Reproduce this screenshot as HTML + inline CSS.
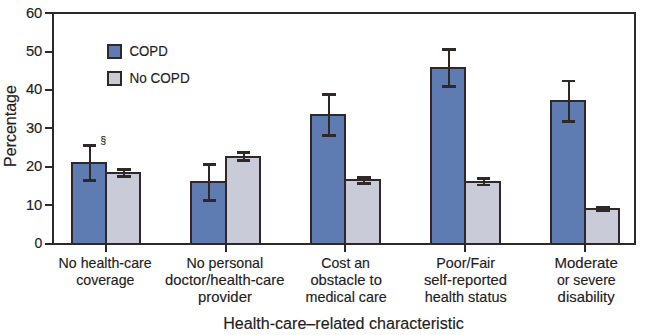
<!DOCTYPE html>
<html><head><meta charset="utf-8"><style>
html,body{margin:0;padding:0;background:#fff;width:660px;height:335px;overflow:hidden}
svg{display:block}
text{font-family:"Liberation Sans",sans-serif;fill:#231c1c;stroke:#231c1c;stroke-width:0.15px}
</style></head><body>
<svg width="660" height="335" viewBox="0 0 660 335">
<rect x="72" y="163" width="34" height="81" fill="#5e7cb2" stroke="#302826" stroke-width="2"/>
<rect x="106" y="173" width="34" height="71" fill="#c9cbd8" stroke="#302826" stroke-width="2"/>
<rect x="191" y="182" width="35" height="62" fill="#5e7cb2" stroke="#302826" stroke-width="2"/>
<rect x="226" y="157" width="34" height="87" fill="#c9cbd8" stroke="#302826" stroke-width="2"/>
<rect x="311" y="115" width="34" height="129" fill="#5e7cb2" stroke="#302826" stroke-width="2"/>
<rect x="345" y="180" width="35" height="64" fill="#c9cbd8" stroke="#302826" stroke-width="2"/>
<rect x="431" y="68" width="34" height="176" fill="#5e7cb2" stroke="#302826" stroke-width="2"/>
<rect x="465" y="182" width="35" height="62" fill="#c9cbd8" stroke="#302826" stroke-width="2"/>
<rect x="551" y="101" width="34" height="143" fill="#5e7cb2" stroke="#302826" stroke-width="2"/>
<rect x="585" y="209" width="34" height="35" fill="#c9cbd8" stroke="#302826" stroke-width="2"/>
<path d="M89 144h2V182h-2zM83 144H96V147H83zM83 179H96V182H83z" fill="#302826"/>
<path d="M123 168h2V178h-2zM117 168H131V171H117zM117 175H131V178H117z" fill="#302826"/>
<path d="M208 163h2V202h-2zM203 163H216V166H203zM203 199H216V202H203z" fill="#302826"/>
<path d="M243 151h2V162h-2zM237 151H250V154H237zM237 159H250V162H237z" fill="#302826"/>
<path d="M328 93h2V137h-2zM322 93H336V96H322zM322 134H336V137H322z" fill="#302826"/>
<path d="M363 176h2V185h-2zM357 176H371V179H357zM357 182H371V185H357z" fill="#302826"/>
<path d="M448 48h2V88h-2zM442 48H456V51H442zM442 85H456V88H442z" fill="#302826"/>
<path d="M483 177h2V186h-2zM477 177H490V180H477zM477 184H490V186H477z" fill="#302826"/>
<path d="M568 80h2V123h-2zM562 80H575V82H562zM562 120H575V123H562z" fill="#302826"/>
<path d="M602 206h2V212h-2zM596 206H610V209H596zM596 209H610V212H596z" fill="#302826"/>
<rect x="53" y="13" width="582" height="231" fill="none" stroke="#302826" stroke-width="2"/>
<path d="M45 244H53" stroke="#302826" stroke-width="2"/>
<text x="42.3" y="248" text-anchor="end" font-size="14">0</text>
<path d="M45 205H53" stroke="#302826" stroke-width="2"/>
<text x="42.3" y="210" text-anchor="end" font-size="14" textLength="16.4" lengthAdjust="spacingAndGlyphs">10</text>
<path d="M45 167H53" stroke="#302826" stroke-width="2"/>
<text x="42.3" y="171" text-anchor="end" font-size="14" textLength="16.4" lengthAdjust="spacingAndGlyphs">20</text>
<path d="M45 128H53" stroke="#302826" stroke-width="2"/>
<text x="42.3" y="133" text-anchor="end" font-size="14" textLength="16.4" lengthAdjust="spacingAndGlyphs">30</text>
<path d="M45 90H53" stroke="#302826" stroke-width="2"/>
<text x="42.3" y="94" text-anchor="end" font-size="14" textLength="16.4" lengthAdjust="spacingAndGlyphs">40</text>
<path d="M45 52H53" stroke="#302826" stroke-width="2"/>
<text x="42.3" y="56" text-anchor="end" font-size="14" textLength="16.4" lengthAdjust="spacingAndGlyphs">50</text>
<path d="M45 13H53" stroke="#302826" stroke-width="2"/>
<text x="42.3" y="18" text-anchor="end" font-size="14" textLength="16.4" lengthAdjust="spacingAndGlyphs">60</text>
<path d="M106 244V252" stroke="#302826" stroke-width="2"/>
<path d="M226 244V252" stroke="#302826" stroke-width="2"/>
<path d="M345 244V252" stroke="#302826" stroke-width="2"/>
<path d="M465 244V252" stroke="#302826" stroke-width="2"/>
<path d="M585 244V252" stroke="#302826" stroke-width="2"/>
<text x="105.15" y="268" text-anchor="middle" font-size="14.6" textLength="93.12" lengthAdjust="spacingAndGlyphs">No health-care</text>
<text x="105.35" y="285" text-anchor="middle" font-size="14.6" textLength="58.28" lengthAdjust="spacingAndGlyphs">coverage</text>
<text x="224.80" y="268" text-anchor="middle" font-size="14.6" textLength="76.71" lengthAdjust="spacingAndGlyphs">No personal</text>
<text x="224.75" y="285" text-anchor="middle" font-size="14.6" textLength="119.38" lengthAdjust="spacingAndGlyphs">doctor/health-care</text>
<text x="225.00" y="302" text-anchor="middle" font-size="14.6" textLength="53.83" lengthAdjust="spacingAndGlyphs">provider</text>
<text x="345.65" y="268" text-anchor="middle" font-size="14.6" textLength="48.59" lengthAdjust="spacingAndGlyphs">Cost an</text>
<text x="346.15" y="285" text-anchor="middle" font-size="14.6" textLength="71.51" lengthAdjust="spacingAndGlyphs">obstacle to</text>
<text x="346.10" y="302" text-anchor="middle" font-size="14.6" textLength="81.20" lengthAdjust="spacingAndGlyphs">medical care</text>
<text x="465.65" y="268" text-anchor="middle" font-size="14.6" textLength="58.73" lengthAdjust="spacingAndGlyphs">Poor/Fair</text>
<text x="465.45" y="285" text-anchor="middle" font-size="14.6" textLength="82.99" lengthAdjust="spacingAndGlyphs">self-reported</text>
<text x="465.70" y="302" text-anchor="middle" font-size="14.6" textLength="82.01" lengthAdjust="spacingAndGlyphs">health status</text>
<text x="586.15" y="268" text-anchor="middle" font-size="14.6" textLength="63.42" lengthAdjust="spacingAndGlyphs">Moderate</text>
<text x="586.30" y="285" text-anchor="middle" font-size="14.6" textLength="58.77" lengthAdjust="spacingAndGlyphs">or severe</text>
<text x="586.15" y="302" text-anchor="middle" font-size="14.6" textLength="57.03" lengthAdjust="spacingAndGlyphs">disability</text>
<text x="343.5" y="329" text-anchor="middle" font-size="16" textLength="240.6" lengthAdjust="spacingAndGlyphs">Health-care&#8211;related characteristic</text>
<text transform="translate(16 126) rotate(-90)" text-anchor="middle" font-size="16">Percentage</text>
<rect x="108" y="45" width="13" height="13" fill="#5e7cb2" stroke="#302826" stroke-width="2"/>
<rect x="108" y="72" width="13" height="13" fill="#c9cbd8" stroke="#302826" stroke-width="2"/>
<text x="129.5" y="56" font-size="14.6" textLength="38.18" lengthAdjust="spacingAndGlyphs">COPD</text>
<text x="129.5" y="83" font-size="14.6" textLength="60.18" lengthAdjust="spacingAndGlyphs">No COPD</text>
<text x="100.5" y="144" font-size="10">&#167;</text>
</svg>
</body></html>
